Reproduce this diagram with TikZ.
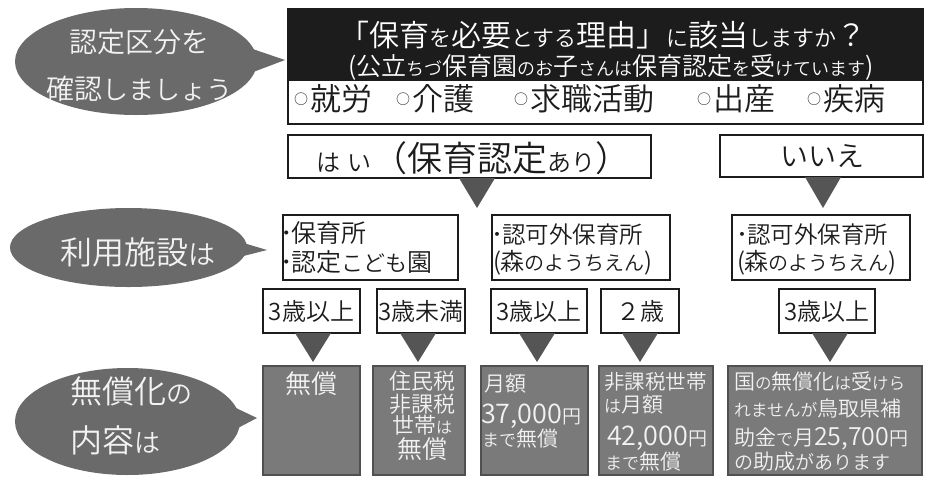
\documentclass[tikz,border=0pt]{standalone}
\usepackage{fontspec}
\IfFontExistsTF{Noto Sans CJK JP DemiLight}{\setmainfont{Noto Sans CJK JP DemiLight}}{%
  \IfFontExistsTF{Noto Sans CJK JP Light}{\setmainfont{Noto Sans CJK JP Light}}{\setmainfont{Noto Sans CJK JP}}}
\usetikzlibrary{calc,shapes.geometric}
\definecolor{cInk}{HTML}{1C1C1C}
\definecolor{cBub}{HTML}{6A6A6A}
\definecolor{cRes}{HTML}{7A7A7A}
\definecolor{cResB}{HTML}{505050}
\definecolor{cTri}{HTML}{555555}
\definecolor{cLt}{HTML}{F2F2F2}
\newcommand\jsz[2]{{\fontsize{#1}{#1}\selectfont #2}}
\newcommand\tridown[3]{\fill[cTri] ($(#1.south)+(#2-18,0)$) -- ($(#1.south)+(#2+18,0)$) -- ($(#1.south)+(#2,#3)$) -- cycle;}
\newcommand\circitem[1]{\raisebox{6.5pt}{\jsz{14}{○}}\hspace{2pt}\jsz{31}{#1}}
\begin{document}
\begin{tikzpicture}[x=1pt,y=-1pt,
  wbox/.style={draw=cInk,line width=2pt,fill=white,inner sep=0pt,outer sep=0pt},
  gbox/.style={draw=cResB,line width=1.5pt,fill=cRes,inner sep=0pt,outer sep=0pt},
  bubble/.style={ellipse,fill=cBub,inner sep=0pt,outer sep=0pt},
  dtxt/.style={inner sep=0pt,outer sep=0pt,text=cInk},
  ltxt/.style={inner sep=0pt,outer sep=0pt,text=cLt},
  wtxt/.style={inner sep=0pt,outer sep=0pt,text=white}]
\fill[white] (0,0) rectangle (925,477);
\useasboundingbox (0,0) rectangle (925,477);

% ---- speech bubbles
\node[bubble, minimum width=242, minimum height=107] (b1) at (136,61.5) {};
\coordinate (b1tip) at (285,60);
\fill[cBub] (232,42) -- (b1tip) -- (232,80) -- cycle;
\node[ltxt, anchor=base] (b1a) at (139,52) {\jsz{28}{認定区分を}};
\node[ltxt, anchor=base] (b1b) at (139.5,99.6) {\jsz{28}{確認}\jsz{26}{しましょう}};

\node[bubble, minimum width=237, minimum height=79] (b2) at (128.5,247.5) {};
\coordinate (b2tip) at (267,250);
\fill[cBub] (220,236) -- (b2tip) -- (220,262) -- cycle;
\node[ltxt, anchor=base] (b2a) at (137.5,264.5) {\jsz{32}{利用施設}\jsz{27}{は}};

\node[bubble, minimum width=225, minimum height=107] (b3) at (127.5,421.5) {};
\coordinate (b3tip) at (257,418);
\fill[cBub] (215,398) -- (b3tip) -- (215,440) -- cycle;
\node[ltxt, anchor=base west] (b3a) at (70,403) {\jsz{32}{無償化}\jsz{26}{の}};
\node[ltxt, anchor=base west] (b3b) at (70,452.5) {\jsz{32}{内容}\jsz{26}{は}};

% ---- question box
\node[wbox, minimum width=635, minimum height=115] (q) at (605.5,66.5) {};
\node[fill=cInk, draw=cInk, line width=2pt, inner sep=0pt, outer sep=0pt, minimum width=635, minimum height=71] (qband) at (605.5,44.5) {};
\node[wtxt, anchor=base] (q1) at (603,46.5) {\jsz{30}{「保育}\jsz{22}{を}\jsz{30}{必要}\jsz{22}{とする}\jsz{30}{理由」}\jsz{22}{に}\jsz{30}{該当}\jsz{22}{しますか}\jsz{30}{？}};
\node[wtxt, anchor=base] (q2) at (611,75.5) {\jsz{25}{(公立}\jsz{18}{ちづ}\jsz{25}{保育園}\jsz{18}{のお}\jsz{25}{子}\jsz{18}{さんは}\jsz{25}{保育認定}\jsz{18}{を}\jsz{25}{受}\jsz{18}{けています}\jsz{25}{)}};
\node[dtxt, anchor=base west] (r1) at (294,110.8) {\circitem{就労}};
\node[dtxt, anchor=base west] (r2) at (396,110.8) {\circitem{介護}};
\node[dtxt, anchor=base west] (r3) at (514,110.8) {\circitem{求職活動}};
\node[dtxt, anchor=base west] (r4) at (697,110.8) {\circitem{出産}};
\node[dtxt, anchor=base west] (r5) at (807,110.8) {\circitem{疾病}};

% ---- yes / no
\node[wbox, minimum width=363, minimum height=43] (hai) at (469.5,156.5) {};
\node[dtxt, anchor=base west] (haiT) at (316,171) {\jsz{24}{は\hspace{8pt}い}\jsz{35}{（保育認定}\jsz{24}{あり}\jsz{35}{）}};
\node[wbox, minimum width=203, minimum height=42] (iie) at (821.5,156) {};
\node[dtxt, anchor=base] (iieT) at (822,166.5) {\jsz{28}{いいえ}};
\tridown{hai}{7.5}{30}
\tridown{iie}{1.5}{31}

% ---- facilities
\node[wbox, minimum width=175, minimum height=65] (facA) at (370.5,247.5) {};
\node[dtxt, anchor=base west] (facA1) at (280,242) {\jsz{25}{･}\hspace{-1pt}\jsz{25}{保育所}};
\node[dtxt, anchor=base west] (facA2) at (280,271.5) {\jsz{25}{･}\hspace{-1pt}\jsz{25}{認定}\jsz{22}{こども}\jsz{25}{園}};
\node[wbox, minimum width=178, minimum height=65] (facB) at (581,247.5) {};
\node[dtxt, anchor=base west] (facB1) at (491,243) {\jsz{24}{･}\hspace{-1pt}\jsz{23.5}{認可外保育所}};
\node[dtxt, anchor=base west] (facB2) at (493,270) {\jsz{24}{(森}\jsz{20}{のようちえん}\jsz{24}{)}};
\node[wbox, minimum width=178, minimum height=65] (facC) at (821,247.5) {};
\node[dtxt, anchor=base west] (facC1) at (736,243) {\jsz{24}{･}\hspace{-1pt}\jsz{23.5}{認可外保育所}};
\node[dtxt, anchor=base west] (facC2) at (737,270) {\jsz{24}{(森}\jsz{20}{のようちえん}\jsz{24}{)}};

% ---- ages
\node[wbox, minimum width=97, minimum height=44] (ageA1) at (311.5,311) {};
\node[dtxt, anchor=base] (ageA1t) at (311.5,320) {\jsz{24}{3歳以上}};
\node[wbox, minimum width=88, minimum height=44] (ageA2) at (421,311) {};
\node[dtxt, anchor=base] (ageA2t) at (421,320) {\jsz{24}{3歳未満}};
\node[wbox, minimum width=96, minimum height=44] (ageB1) at (539,311) {};
\node[dtxt, anchor=base] (ageB1t) at (539,320) {\jsz{24}{3歳以上}};
\node[wbox, minimum width=78, minimum height=44] (ageB2) at (640,311) {};
\node[dtxt, anchor=base] (ageB2t) at (640,320) {\jsz{24}{２歳}};
\node[wbox, minimum width=96, minimum height=44] (ageC1) at (827,311) {};
\node[dtxt, anchor=base] (ageC1t) at (827,320) {\jsz{24}{3歳以上}};
\tridown{ageA1}{1.5}{29}
\tridown{ageA2}{-3}{29}
\tridown{ageB1}{-2}{29}
\tridown{ageB2}{0}{29}
\tridown{ageC1}{3}{29}

% ---- results
\node[gbox, minimum width=97, minimum height=109] (resD1) at (311.5,420.5) {};
\node[ltxt, anchor=base] (resD1a) at (311.5,393) {\jsz{26}{無償}};

\node[gbox, minimum width=92, minimum height=109] (resD2) at (419,420.5) {};
\node[ltxt, anchor=base] (resD2a) at (422,389.4) {\jsz{22}{住民税}};
\node[ltxt, anchor=base] (resD2b) at (422,412) {\jsz{22}{非課税}};
\node[ltxt, anchor=base] (resD2c) at (422,433.4) {\jsz{22}{世帯}\jsz{16}{は}};
\node[ltxt, anchor=base] (resD2d) at (422,458.5) {\jsz{25}{無償}};

\node[gbox, minimum width=107, minimum height=109] (resD3) at (534.5,420.5) {};
\node[ltxt, anchor=base west] (resD3a) at (484,391) {\jsz{21}{月額}};
\node[ltxt, anchor=base west] (resD3b) at (481,423) {\jsz{27}{37,000}\jsz{19}{円}};
\node[ltxt, anchor=base west] (resD3c) at (482,446.5) {\jsz{17}{まで}\jsz{21}{無償}};

\node[gbox, minimum width=114, minimum height=109] (resD4) at (656,420.5) {};
\node[ltxt, anchor=base west] (resD4a) at (604,389) {\jsz{20.5}{非課税世帯}};
\node[ltxt, anchor=base west] (resD4b) at (604,412) {\jsz{17}{は}\jsz{21}{月額}};
\node[ltxt, anchor=base west] (resD4c) at (607,445) {\jsz{27}{42,000}\jsz{19}{円}};
\node[ltxt, anchor=base west] (resD4d) at (605,469) {\jsz{17}{まで}\jsz{21}{無償}};

\node[gbox, minimum width=194, minimum height=109] (resD5) at (825,420.5) {};
\node[ltxt, anchor=base west] (resD5a) at (734,389) {\jsz{21}{国}\jsz{16.5}{の}\jsz{21}{無償化}\jsz{16.5}{は}\jsz{21}{受}\jsz{16.5}{けら}};
\node[ltxt, anchor=base west] (resD5b) at (734,416) {\jsz{16.8}{れませんが}\jsz{21}{鳥取県補}};
\node[ltxt, anchor=base west] (resD5c) at (734,445) {\jsz{21}{助金}\jsz{17}{で}\jsz{21}{月}\jsz{25}{25,700}\jsz{19}{円}};
\node[ltxt, anchor=base west] (resD5d) at (734,469) {\jsz{19}{の}\jsz{21}{助成}\jsz{19}{があります}};
\end{tikzpicture}
\end{document}
